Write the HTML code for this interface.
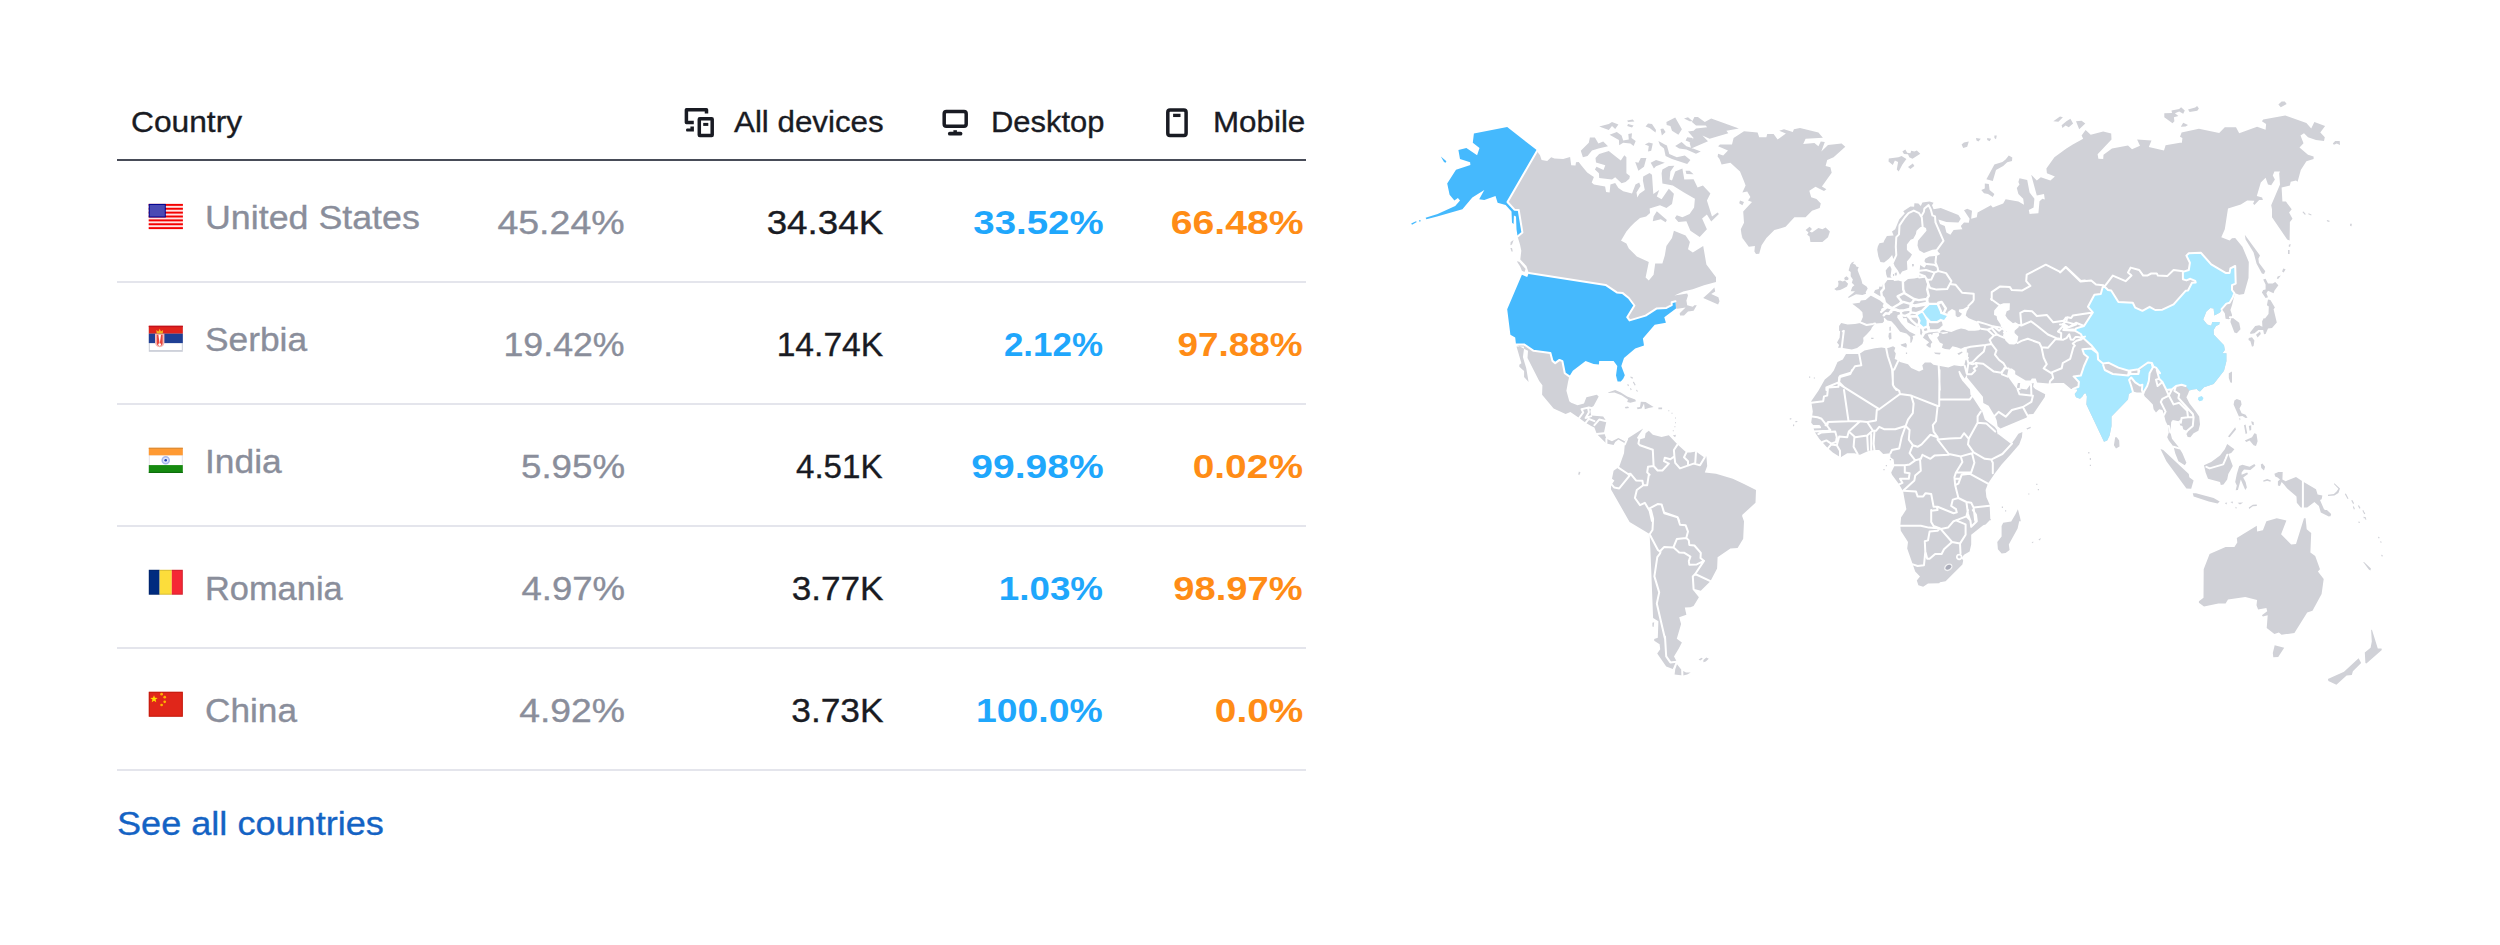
<!DOCTYPE html>
<html lang="en">
<head>
<meta charset="utf-8">
<title>Traffic by country</title>
<style>
  html, body { margin: 0; padding: 0; background: #fff; }
  body { width: 2500px; height: 945px; position: relative; overflow: hidden;
         font-family: "Liberation Sans", sans-serif; color: #191b23; }
  .t { position: absolute; white-space: nowrap; line-height: 1; }
  .hline { position: absolute; left: 117px; width: 1189px; height: 2px; background: #e4e5ec; }
  .hline.head { background: #484c58; }
  .th, .name, .pct, .val, .link { -webkit-text-stroke: 0.35px currentColor; }
  .th { font-size: 30px; color: #191b23; }
  .name { font-size: 33.5px; color: #8a8e9b; }
  .pct { font-size: 33.5px; color: #8a8e9b; }
  .val { font-size: 33.5px; color: #191b23; }
  .desk { font-size: 33.5px; color: #1fa7fc; font-weight: bold; }
  .mob { font-size: 33.5px; color: #ff8c16; font-weight: bold; }
  .link { font-size: 34px; color: #1463c4; }
  svg { position: absolute; left: 0; top: 0; overflow: visible; }
</style>
</head>
<body>
<div class="t th" id="h_country" style="left:131.4px; transform-origin:0 0; top:106.9px; transform:scaleX(1.0577);">Country</div>
<div class="t th" id="h_all" style="left:733.8px; transform-origin:0 0; top:106.9px; transform:scaleX(1.0437);">All devices</div>
<div class="t th" id="h_desk" style="left:991.1px; transform-origin:0 0; top:106.9px; transform:scaleX(1.0299);">Desktop</div>
<div class="t th" id="h_mob" style="left:1212.7px; transform-origin:0 0; top:106.9px; transform:scaleX(1.0442);">Mobile</div>
<div class="t name" id="n1" style="left:205.2px; transform-origin:0 0; top:200.9px; transform:scaleX(1.0682);">United States</div>
<div class="t name" id="n2" style="left:205.1px; transform-origin:0 0; top:323.0px; transform:scaleX(1.0545);">Serbia</div>
<div class="t name" id="n3" style="left:205.1px; transform-origin:0 0; top:445.0px; transform:scaleX(1.056);">India</div>
<div class="t name" id="n4" style="left:204.9px; transform-origin:0 0; top:572.2px; transform:scaleX(1.0267);">Romania</div>
<div class="t name" id="n5" style="left:204.8px; transform-origin:0 0; top:694.2px; transform:scaleX(1.0512);">China</div>
<div class="t pct" id="p1" style="right:1875.5px; transform-origin:100% 0; top:206.4px; transform:scaleX(1.1199);">45.24%</div>
<div class="t pct" id="p2" style="right:1875.5px; transform-origin:100% 0; top:328.4px; transform:scaleX(1.0662);">19.42%</div>
<div class="t pct" id="p3" style="right:1875.5px; transform-origin:100% 0; top:450.4px; transform:scaleX(1.0947);">5.95%</div>
<div class="t pct" id="p4" style="right:1875.5px; transform-origin:100% 0; top:572.4px; transform:scaleX(1.0904);">4.97%</div>
<div class="t pct" id="p5" style="right:1875.5px; transform-origin:100% 0; top:694.4px; transform:scaleX(1.1141);">4.92%</div>
<div class="t val" id="v1" style="right:1616.9px; transform-origin:100% 0; top:206.4px; transform:scaleX(1.0972);">34.34K</div>
<div class="t val" id="v2" style="right:1617.0px; transform-origin:100% 0; top:328.4px; transform:scaleX(1.0031);">14.74K</div>
<div class="t val" id="v3" style="right:1617.0px; transform-origin:100% 0; top:450.4px; transform:scaleX(0.989);">4.51K</div>
<div class="t val" id="v4" style="right:1616.9px; transform-origin:100% 0; top:572.4px; transform:scaleX(1.0487);">3.77K</div>
<div class="t val" id="v5" style="right:1616.9px; transform-origin:100% 0; top:694.4px; transform:scaleX(1.0545);">3.73K</div>
<div class="t desk" id="d1" style="right:1396.8px; transform-origin:100% 0; top:206.4px; transform:scaleX(1.1468);">33.52%</div>
<div class="t desk" id="d2" style="right:1397.0px; transform-origin:100% 0; top:328.4px; transform:scaleX(1.0431);">2.12%</div>
<div class="t desk" id="d3" style="right:1396.8px; transform-origin:100% 0; top:450.4px; transform:scaleX(1.1647);">99.98%</div>
<div class="t desk" id="d4" style="right:1396.9px; transform-origin:100% 0; top:572.4px; transform:scaleX(1.0969);">1.03%</div>
<div class="t desk" id="d5" style="right:1396.9px; transform-origin:100% 0; top:694.4px; transform:scaleX(1.1145);">100.0%</div>
<div class="t mob" id="m1" style="right:1196.8px; transform-origin:100% 0; top:206.4px; transform:scaleX(1.1701);">66.48%</div>
<div class="t mob" id="m2" style="right:1196.9px; transform-origin:100% 0; top:328.4px; transform:scaleX(1.102);">97.88%</div>
<div class="t mob" id="m3" style="right:1196.8px; transform-origin:100% 0; top:450.4px; transform:scaleX(1.1614);">0.02%</div>
<div class="t mob" id="m4" style="right:1196.9px; transform-origin:100% 0; top:572.4px; transform:scaleX(1.1378);">98.97%</div>
<div class="t mob" id="m5" style="right:1196.8px; transform-origin:100% 0; top:694.4px; transform:scaleX(1.1594);">0.0%</div>
<div class="t link" id="seeall" style="left:117.2px; transform-origin:0 0; top:805.8px; transform:scaleX(1.0616);">See all countries</div>
<div class="hline head" style="top:159px;"></div>
<div class="hline" style="top:281px;"></div>
<div class="hline" style="top:403px;"></div>
<div class="hline" style="top:525px;"></div>
<div class="hline" style="top:647px;"></div>
<div class="hline" style="top:769px;"></div>
<svg width="2500" height="945" viewBox="0 0 2500 945" id="icons">
 <g fill="none" stroke="#191b23" stroke-width="3.5" stroke-linejoin="round" stroke-linecap="butt">
  <!-- all devices -->
  <path d="M706.5 113.6 V109.7 H686.4 V122.6 H693.8" stroke-linejoin="round"/>
  <path d="M687 128.5 H690.4 V126.5 H693.9 V131.6 H687 Q686 131.6 686 130 Q686 128.5 687 128.5 Z" fill="#191b23" stroke="none"/>
  <rect x="699.3" y="118.8" width="12.9" height="16.6" rx="0.5"/>
  <path d="M703.2 124.4 H708.3" stroke-width="3"/>
  <!-- desktop -->
  <rect x="944.2" y="111.6" width="22" height="14.7" rx="2.2"/>
  <path d="M949.8 133.7 H960.5" stroke-width="3.8" stroke-linecap="round"/>
  <path d="M955.15 130.2 V133" stroke-width="3.5"/>
  <!-- mobile -->
  <rect x="1167.8" y="110" width="18.3" height="25.4" rx="2.2"/>
  <path d="M1173.1 115.4 H1180.5" stroke-width="3.3"/>
 </g>
</svg>
<svg width="2500" height="945" viewBox="0 0 2500 945" id="flags">
<g><rect x="148.7" y="203.9" width="34.2" height="25.2" fill="#ffe4e4"/><rect x="148.7" y="203.90" width="34.2" height="1.94" fill="#f40000"/><rect x="148.7" y="207.78" width="34.2" height="1.94" fill="#f40000"/><rect x="148.7" y="211.65" width="34.2" height="1.94" fill="#f40000"/><rect x="148.7" y="215.53" width="34.2" height="1.94" fill="#f40000"/><rect x="148.7" y="219.41" width="34.2" height="1.94" fill="#f40000"/><rect x="148.7" y="223.28" width="34.2" height="1.94" fill="#f40000"/><rect x="148.7" y="227.16" width="34.2" height="1.94" fill="#f40000"/><rect x="148.7" y="203.9" width="17.1" height="13.57" fill="#00008f"/><rect x="149.7" y="204.9" width="15.1" height="11.57" fill="#4a4ab4"/></g>
<g><rect x="148.8" y="325.8" width="34" height="26" fill="#c9ccd6"/><rect x="149.8" y="343.1" width="32" height="6.999999999999999" fill="#ffffff"/><rect x="148.8" y="325.8" width="34" height="7.9" fill="#e0231c"/><rect x="148.8" y="325.8" width="34" height="1.3" fill="#c4101a"/><rect x="148.8" y="333.7" width="34" height="9.4" fill="#1f3f94"/><path d="M155.0 333.8 H164.4 V342.3 Q164.4 347.0 159.70000000000002 347.2 Q155.0 347.0 155.0 342.3 Z" fill="#f6b9b4"/><path d="M156.8 334.8 H162.60000000000002 V342.8 Q162.4 346.0 159.70000000000002 346.2 Q157.0 346.0 156.8 342.8 Z" fill="#e8453c"/><path d="M158.4 334.8 L159.70000000000002 344.3 L161.0 334.8 Z" fill="#ffffff"/><circle cx="159.70000000000002" cy="344.6" r="1.4" fill="#ffffff"/><path d="M156.70000000000002 333.40000000000003 L156.3 330.1 L158.4 331.40000000000003 L159.70000000000002 328.7 L161.0 331.40000000000003 L163.10000000000002 330.1 L162.70000000000002 333.40000000000003 Z" fill="#f7b521"/></g>
<g><rect x="148.8" y="447.8" width="34" height="25.1" fill="#e3e1e8"/><rect x="149.8" y="455.3" width="32" height="9.8" fill="#ffffff"/><rect x="148.8" y="447.8" width="34" height="7.5" fill="#ff9a33"/><rect x="148.8" y="447.8" width="34" height="1" fill="#d98a35"/><rect x="148.8" y="465.1" width="34" height="7.800000000000001" fill="#168a10"/><rect x="148.8" y="471.90000000000003" width="34" height="1" fill="#0a6a0a"/><circle cx="165.70000000000002" cy="460.2" r="3.5" fill="#dfe6fa" stroke="#a9b9ee" stroke-width="1.6"/><circle cx="165.70000000000002" cy="460.2" r="1.3" fill="#1d3fb0"/></g>
<g><rect x="148.8" y="569.8" width="10.8" height="24.9" fill="#002b7f"/><rect x="159.60000000000002" y="569.8" width="12.2" height="24.9" fill="#fcdd3b"/><rect x="171.8" y="569.8" width="11" height="24.9" fill="#f52735"/><rect x="149.3" y="570.3" width="33" height="23.9" fill="none" stroke="#000" stroke-opacity=".15"/></g>
<g><rect x="148.8" y="691.8" width="34" height="24.9" fill="#e0261a"/><rect x="149.3" y="692.3" width="33" height="23.9" fill="none" stroke="#b81508" stroke-opacity=".7"/><polygon points="154.00,695.20 154.96,697.77 157.71,697.89 155.56,699.61 156.29,702.26 154.00,700.74 151.71,702.26 152.44,699.61 150.29,697.89 153.04,697.77" fill="#ffde00"/><circle cx="161.60000000000002" cy="694.1999999999999" r="1.35" fill="#ffb400"/><circle cx="164.70000000000002" cy="697.1999999999999" r="1.35" fill="#ffb400"/><circle cx="164.70000000000002" cy="701.8" r="1.35" fill="#ffb400"/><circle cx="161.60000000000002" cy="705.0" r="1.35" fill="#ffb400"/></g>
</svg>
<svg width="2500" height="945" viewBox="0 0 2500 945" id="map">
<path fill="#d0d1d7" d="M1884 241 L1886.9 235.9 L1893.6 235.6 L1892 231.6 L1895.2 229.2 L1899.2 219.6 L1904.8 213.2 L1903.2 211.3 L1910.4 206.5 L1914.1 206.8 L1914.4 203.3 L1918.4 203.6 L1920.8 206 L1922.4 202.5 L1929.6 201.5 L1933.6 202.8 L1932 205.2 L1933.6 209.2 L1940.8 208.1 L1958.4 215.1 L1960.8 218.8 L1958.4 222.5 L1946.4 222 L1938.4 219.6 L1940 224.1 L1944.8 226 L1946.4 232.4 L1950.4 234.8 L1953.6 230 L1962.4 229.2 L1960.8 226 L1964 222.5 L1968.8 222.8 L1969.6 218.8 L1964 210.3 L1967.2 208.7 L1972 210.8 L1971.2 218.8 L1976.8 217.2 L1977.6 212.4 L1990.9 205.2 L1992.8 207.6 L2003.2 203.6 L2005.6 199.3 L2018.4 201.5 L2024 204.7 L2023.2 198.8 L2018.4 194 L2016.8 187.9 L2019.5 184.4 L2018.4 182 L2019.5 178.3 L2027.2 179.9 L2029.6 192.4 L2034.4 198.8 L2033.6 207.6 L2028.8 210 L2029.6 214 L2038.4 213.2 L2039.5 201.2 L2042.4 198.8 L2044.8 199.6 L2044 194 L2036.8 195.6 L2031.2 174.8 L2036.8 180.4 L2040.8 177.2 L2050.4 180.4 L2054.9 176.4 L2046.9 173.2 L2046.4 168.4 L2054.4 157.2 L2066.4 148.4 L2072.8 144.4 L2083.2 138.8 L2081.6 135.6 L2085.6 130 L2090.7 134.8 L2103.2 131.6 L2111.2 133.5 L2111.5 139.6 L2097.6 154.3 L2098.4 158.8 L2103.2 159.1 L2103.5 154.8 L2112 148.4 L2128 145.5 L2132 149.2 L2140 145.7 L2137.1 139.6 L2151.5 140.4 L2148.8 147.1 L2164 150.5 L2165.6 145.2 L2180 142.8 L2181.9 142.8 L2182.4 138 L2180 136.7 L2181.6 132.4 L2198.9 128.7 L2219.2 132.9 L2224.8 127.3 L2236 127.3 L2239.2 133.2 L2257.1 126.8 L2265.6 129.7 L2266.1 123.9 L2261.9 121.2 L2263.2 119.6 L2285.3 115.6 L2306.4 123.1 L2311.2 128.4 L2314.4 122 L2325.1 126 L2320.3 132.4 L2324.8 137.2 L2324 140.9 L2316 140.1 L2308 137.2 L2304 133.2 L2300.5 135.6 L2303.5 143.3 L2299.5 147.6 L2308 154.8 L2313.6 156.4 L2313.6 159.1 L2306.4 161.2 L2300.8 170 L2297.6 181.7 L2296 180.4 L2290.7 181.7 L2289.9 185.5 L2281.6 187.6 L2282.4 201.5 L2285.9 201.5 L2291.7 209.2 L2289.1 212.4 L2292.5 218.8 L2289.9 222 L2289.6 240.4 L2287.2 239.6 L2272 217.2 L2272 209.2 L2271.2 205.2 L2280 184.4 L2279.2 173.2 L2280 171.6 L2274.4 171.6 L2272.8 175.6 L2274.9 179.6 L2271.2 185.2 L2268 184.4 L2265.6 177.7 L2260.8 182.5 L2256.8 195.9 L2262.1 197.5 L2262.9 199.9 L2259.2 200.1 L2254.4 204.9 L2253.1 203.6 L2254.4 200.7 L2247.2 200.4 L2240.8 204.4 L2228 208.4 L2224.8 229.2 L2221.3 237.2 L2229.6 240.4 L2232 238.3 L2235.2 238 L2242.4 246.8 L2248.8 262 L2248.5 278 L2244 294 L2239.2 294.8 L2235.2 293.2 L2234.4 295.6 L2233.6 298.8 L2232 305.2 L2230.4 310 L2232 314.8 L2232 317.2 L2239.2 322.8 L2240.5 329.2 L2236.8 333.2 L2234.4 332.4 L2230.4 322 L2231.2 318 L2228.8 319.3 L2225.6 318.8 L2224.8 313.2 L2221.9 309.2 L2220 312.4 L2214.4 315.6 L2213.6 308.4 L2210.4 308.1 L2206.4 311.6 L2203.2 319.6 L2207.2 324.4 L2211.2 325.7 L2212.3 322 L2219.7 322 L2219.2 324.4 L2216 326 L2213.6 330 L2213.9 334.8 L2224 345.2 L2224.8 350 L2222.4 353.2 L2226.4 353.2 L2226.4 361.2 L2224 370.8 L2216 381 L2213.6 384.1 L2204 387.3 L2200 391.6 L2198.4 390.8 L2196.8 388.9 L2192.8 389.5 L2189.3 390.5 L2188 394 L2186.4 397.2 L2189.6 403.6 L2195.2 410.8 L2199.2 416.4 L2200 424.4 L2198.4 430.8 L2193.6 433.2 L2190.4 437.2 L2187.7 436.9 L2186.4 434 L2188 431.6 L2183.2 429.2 L2182.4 426 L2180 425.2 L2179.7 421.2 L2177.6 420.9 L2172.8 419.9 L2171.2 422 L2170.4 432.4 L2172 438.8 L2178.4 446.8 L2182.4 453.2 L2186.4 462.8 L2184.8 465.2 L2178.4 461.2 L2175.2 453.2 L2173.6 446.8 L2168.8 440.4 L2167.2 437.2 L2168.8 432.4 L2168 426 L2165.6 421.2 L2164 414.8 L2162.4 410 L2159.2 409.2 L2156 412.4 L2153.6 409.2 L2152.8 404.4 L2148 399.6 L2144.8 396.4 L2144 394.8 L2141.6 392.4 L2136.8 392.4 L2132.8 391.6 L2128.8 394 L2128 399.6 L2111.5 416.4 L2111.5 426 L2109.6 435.6 L2107.2 440.4 L2104 441.7 L2086.4 404.4 L2086.9 396.4 L2085.6 393.2 L2084 393.7 L2082.4 396.4 L2080 398.8 L2076 397.2 L2074.7 394 L2077.3 390.8 L2076.8 389.2 L2073.1 388.9 L2073 388.9 L2071 388.9 L2063.8 382.9 L2055.2 382.9 L2048.6 383.5 L2037.1 382.4 L2035.7 378.6 L2031.9 378.6 L2030.5 380.5 L2025.7 380.5 L2015.2 374.3 L2015.2 371 L2011.9 368.6 L2008.6 368.6 L2007.1 375.2 L2008.1 377.1 L2015.7 387.6 L2017.1 388.9 L2017.1 386.2 L2017.9 382.9 L2020.2 382.9 L2019.5 388.6 L2026.7 389.5 L2031 383.8 L2033.8 383.1 L2033.1 386.7 L2035.2 389 L2045.2 394.3 L2044.8 397.1 L2033.3 414 L2028.6 414.3 L2026.7 417.6 L2000.5 428.6 L1997.6 426.2 L1996.7 420.5 L1995.2 416.7 L1994.3 415.2 L1988.6 405.7 L1983.3 402.9 L1982.9 396.7 L1967.1 377.6 L1967.1 374.3 L1964.7 378.5 L1962 374.8 L1959.7 370.8 L1958.3 371.6 L1959.9 376.4 L1962.6 381.2 L1962.6 381.1 L1970 389.5 L1970.5 394.8 L1972.4 396.7 L1981 410 L1982.4 411.9 L1984.8 419.5 L1994.8 427.1 L1996.7 429.5 L1997.6 434.3 L1998.4 434.3 L2011.2 443.9 L2014.9 439.1 L2018.4 433.7 L2022.4 432.1 L2021.9 437.2 L2019.2 444.4 L2010.4 454.8 L2001.6 464.4 L1994.4 474 L1988 483.6 L1985.6 490 L1986.4 497.2 L1989.6 504.4 L1990.4 521 L1991.2 518.8 L1985.6 524.4 L1983.2 525.2 L1971.2 534.8 L1971.2 544.4 L1969.6 551.6 L1964 554.8 L1961.6 558 L1963.2 560.4 L1962.4 564.4 L1945.6 581.2 L1940 582.3 L1939.2 583.3 L1928 583.6 L1923.2 586.8 L1918.4 585.2 L1916.8 580.4 L1920 576.4 L1915.2 571.6 L1912.8 564.4 L1907.2 548.4 L1908 542 L1900.8 530.8 L1900.3 526 L1901.1 517.2 L1902.4 515.6 L1906.4 509.2 L1904 496.4 L1903.2 491.6 L1899.2 484.4 L1892 474.8 L1891.2 472.4 L1894.4 466 L1893.6 459.6 L1890.4 457.2 L1890.4 453.2 L1883.2 454 L1879.2 450 L1874.4 450 L1868.8 450.8 L1860 454.8 L1854.4 453.2 L1847.2 453.2 L1840.8 457.2 L1839.2 456.4 L1832.8 452.4 L1826.4 446.8 L1819.2 438.8 L1814.4 431.6 L1812.8 424.4 L1811.2 422.8 L1812.8 411.6 L1811.2 401.2 L1818.4 390.8 L1824.8 379.6 L1830.6 374.8 L1833.8 370.6 L1837.5 362.1 L1842.8 359.4 L1846 354.1 L1851.8 354.1 L1859.2 354.1 L1860.8 353.1 L1864.5 350.4 L1875.1 348.3 L1881.5 347.6 L1886.2 348.3 L1888.9 347.8 L1893.1 346.2 L1895.3 347.8 L1894.2 350.9 L1895.8 353.6 L1894.7 358.9 L1898.4 360.5 L1900 362.1 L1908 364.2 L1911.2 367.9 L1919.1 371.4 L1923.3 369.5 L1922.3 365.3 L1924.9 362.6 L1930.8 362.4 L1933.4 364.7 L1938.7 365.8 L1948.3 367.4 L1954.1 365.3 L1961 366.3 L1964.2 365.8 L1965.7 358.9 L1966.8 353.6 L1966.8 347.8 L1965.2 346.7 L1961 348.8 L1956.7 347.2 L1952.5 346.2 L1949.8 349.4 L1945.1 349.1 L1941.9 347.8 L1943 344.1 L1939.8 342.5 L1938.2 339.8 L1937.1 337.7 L1939.2 335.6 L1938.7 332.4 L1937.7 332.4 L1932.9 332.9 L1932.1 334.9 L1930.8 334 L1927.6 334.4 L1929.2 338.1 L1932.4 342.3 L1930.8 343.9 L1930.8 347.6 L1929.2 347.6 L1926 345 L1929.2 342.3 L1923.4 338.1 L1922.3 336.5 L1921.8 335.7 L1920.2 333.9 L1920.2 328.6 L1918.1 327.5 L1917 326.5 L1914.4 325.9 L1907.5 322.2 L1906.5 318 L1903.3 318.3 L1902.8 316.9 L1901.2 315.9 L1900.4 314 L1897.5 315.3 L1897.2 317.5 L1901.2 323.3 L1905.9 328.6 L1909.6 331.7 L1915.2 334.4 L1915.4 335.2 L1912.5 336 L1913.1 338.1 L1911.7 342.3 L1910.4 342.9 L1910.2 337 L1906.5 333.6 L1900.1 331.7 L1895.3 325.4 L1891.4 321.2 L1887.4 320.6 L1884.8 318 L1883.7 317.5 L1884.1 321.3 L1882.5 322.9 L1875.1 323.4 L1871.9 327.6 L1870.9 329.7 L1866.6 334.5 L1863.2 337.7 L1863.5 340.9 L1862.4 344.1 L1857.1 348.1 L1851.8 349.6 L1842.8 348.1 L1841.7 347.8 L1838 347.8 L1839.1 345.1 L1837 342.5 L1839.6 337.7 L1840.1 331.3 L1839.1 330.8 L1839.1 326 L1841.2 322.9 L1847.6 324.4 L1855 323.9 L1860.3 322.9 L1862.9 317 L1862.4 312.3 L1859.2 309.1 L1852.3 303.8 L1859.7 302.7 L1860.8 300.6 L1865.6 300.1 L1865.6 300 L1870.9 295.4 L1873 294.3 L1875.1 290.1 L1878.8 289 L1879.4 286.4 L1881.5 286.9 L1882.5 284.3 L1884.7 283.7 L1887.8 279.5 L1886.2 274.2 L1885.7 270.5 L1887.8 267.8 L1890 265.7 L1891.5 268.9 L1891 273.1 L1890.5 276.3 L1892.1 278.4 L1894.2 281.1 L1898.4 280.6 L1901.6 281.6 L1904.3 282.1 L1908 279 L1914.3 278.4 L1919.1 277.4 L1919.6 274.2 L1919.6 270.5 L1920.2 264.9 L1922 266.2 L1924.4 267.8 L1926.8 263.9 L1924.4 261.3 L1925.2 258.8 L1929.2 256.5 L1935 256 L1937.7 255.6 L1940.3 254.1 L1938.2 251.9 L1936.6 249.3 L1932.4 249.8 L1923.9 253 L1919.1 250.3 L1917.5 245.6 L1918 240.8 L1926.5 230.7 L1926 228.1 L1922.8 226.5 L1920.2 227.3 L1916.5 230.7 L1915.9 233.9 L1913.3 238.7 L1910.6 239.7 L1906.9 244.5 L1906.9 249.8 L1908 250.9 L1912 254.6 L1910.1 257.8 L1906.9 261.5 L1907.4 269.4 L1906.4 270 L1902.1 271.5 L1900 274.7 L1897.9 270.5 L1894.7 266.2 L1893.1 262 L1894.2 259.4 L1893.1 258.3 L1892.1 255.1 L1888.9 258.8 L1884.1 262.5 L1880.4 262 L1878.3 256.2 L1877.2 249.8 L1877.8 246.6 L1879.4 243.2 L1883.6 242.4 Z
M1537.9 152.4 L1540 155.3 L1541.6 159.9 L1547.2 160.9 L1551.2 157.2 L1554.4 158.5 L1563.2 159.1 L1570.1 156.9 L1571.2 165.2 L1575.5 165.5 L1576 162.3 L1578.7 162 L1581.6 165.7 L1587.2 172.4 L1591.2 175.3 L1593.9 176.9 L1591.7 182.5 L1593.9 184.4 L1605.1 186.5 L1606.1 192.1 L1609.6 192.4 L1610.4 184.4 L1615.2 183.1 L1618.4 188.1 L1623.2 191.3 L1632 193.5 L1635.5 184.4 L1639.2 182.5 L1640.5 186 L1636.5 192.4 L1637.3 197.5 L1639.5 193.7 L1644.8 190 L1642.9 180.4 L1643.2 176.4 L1649.6 172.9 L1652 174.8 L1653.3 194 L1659.2 190 L1656.8 196.4 L1661.6 199.3 L1668.8 188.7 L1673.9 193.7 L1672 203.9 L1666.4 208.1 L1660 205.2 L1649.6 208.4 L1650.1 212.9 L1646.1 216.4 L1640 218 L1634.4 222.8 L1630.4 226.8 L1626.4 231.6 L1620.8 241 L1620.8 240.4 L1626.4 243.6 L1628.8 248.4 L1636.8 256.4 L1648.8 262 L1645.6 277.5 L1648.8 280.4 L1653.6 274.8 L1655.2 263.6 L1662.4 263.6 L1664.8 255.6 L1666.4 246 L1672 238 L1673.9 230.8 L1685.6 235.6 L1689.9 242 L1688 249.2 L1692.8 252.4 L1703.2 246 L1706.4 264.4 L1716 277.2 L1716 282 L1704 285.2 L1692.8 289.2 L1683.2 291.6 L1674.4 295.6 L1687.2 293.5 L1688 295.6 L1686.4 300.4 L1687.2 305.2 L1692.8 306.8 L1694.4 305.2 L1696.8 305.2 L1693.6 310.8 L1688 311.6 L1684 315.6 L1680 315.6 L1679.7 313.2 L1685.6 307.6 L1677.6 308.7 L1676 308.4 L1675.5 301.2 L1675.5 301.2 L1671.7 302.3 L1671.7 305.2 L1666.4 307.9 L1656.8 308.4 L1645.6 315.6 L1629.6 320.4 L1627.2 317.2 L1634.4 305.5 L1628.8 298 L1622.4 292.9 L1616.8 292.4 L1605.6 284.9 L1528.8 272.9 L1528 270.8 L1526.4 266 L1520.3 259.6 L1521.3 250.8 L1520 244.4 L1517.6 236.7 L1517.6 236.4 L1522.4 232.4 L1518.7 210 L1514.4 209.7 L1507.5 202 L1537.3 150.5 Z
M1510.7 242 L1513.6 239.9 L1512 244.4 L1510.4 245.2 Z
M1510.4 247.9 L1512 247.9 L1512.8 251.6 L1511.5 251.6 Z
M1516.8 261.2 L1519.2 261.7 L1525.6 268.9 L1524.5 271.9 L1521.9 270.8 L1520.3 266.8 Z
M1714.4 287.6 L1715.2 291.6 L1711.2 294 L1718.4 297.2 L1719.5 301.2 L1718.1 304.4 L1703.2 298 L1710.4 291.6 Z
M1589.9 137.5 L1594.9 137.5 L1598.4 143.6 L1603.2 141.5 L1608 146.3 L1598.4 148.4 L1592 150.5 L1587.5 155.9 L1582.9 157.2 L1580.8 150.8 L1588.8 142.8 Z
M1599.2 154 L1608.8 151.1 L1614.4 155.6 L1620.8 160.4 L1624.3 155.3 L1626.4 157.2 L1626.4 173.2 L1629.9 175.9 L1629.3 178.8 L1625.6 182 L1621.6 183.3 L1615.2 177.2 L1612 179.6 L1599.2 178 L1598.9 173.2 L1594.9 169.5 L1596.5 166.8 L1603.5 170 L1605.3 165.2 L1596 162.5 L1595.5 158 Z
M1599.2 126.5 L1608.8 124.1 L1612 122 L1618.4 124.4 L1615.2 128.9 L1612 126 L1608.8 130 Z
M1609.6 134.8 L1616.8 131.9 L1621.6 135.6 L1623.2 140.4 L1628.8 139.6 L1628.3 134 L1632 133.2 L1631.5 138 L1635.7 140.9 L1633.6 146 L1630.4 143.6 L1623.2 142.8 L1619.2 145.2 L1618.9 139.9 Z
M1627.2 120.4 L1632.8 119.6 L1634.4 121.5 L1628 122 Z
M1628 124.1 L1633.6 125.5 L1632 127.6 L1627.2 126 Z
M1645.6 126.5 L1648 123.6 L1652 124.1 L1656 130 L1655.5 132.4 L1649.6 128.1 Z
M1660.5 128.9 L1663.2 128.4 L1665.6 131.9 L1661.9 135.6 L1661.1 131.9 Z
M1644.8 144.4 L1648.8 142.5 L1652.8 143.6 L1651.2 150.8 L1648 151.6 L1648.8 146 Z
M1640.8 158 L1646.4 158 L1644 166.8 L1638.4 170.8 L1635.2 162 L1638.4 162.8 Z
M1650.7 162.8 L1656 159.9 L1664.8 162.8 L1656 166.3 L1653.9 168.4 L1652.8 166.5 Z
M1666.4 122 L1675.2 117.5 L1679.2 124.4 L1681.9 129.2 L1678.4 134.8 L1672 130.8 L1670.4 126 L1666.7 124.9 Z
M1684 118.5 L1688 117.2 L1692.8 121.2 L1689.6 121.2 Z
M1694.4 116.9 L1697.9 116.9 L1704.8 122 L1711.2 118.5 L1738.9 128.4 L1726.4 130.8 L1728.3 133.2 L1709.6 138.8 L1702.4 135.6 L1708 141.2 L1691.2 148.4 L1689.6 142.8 L1693.6 138 L1688 131.6 L1693.6 130.8 L1696 128.4 L1707.2 127.3 L1705.6 125.5 L1696 125.5 L1692 122 Z
M1675.2 146 L1681.6 142 L1686.4 146.3 L1690.4 147.6 L1700.8 151.6 L1696 153.7 L1686.4 149.5 L1679.2 148.4 Z
M1687.2 137.2 L1692.8 138 L1691.2 142.8 L1685.6 140.4 Z
M1658.4 140.9 L1664.8 144.4 L1666.9 145.5 L1669.3 154 L1676.8 157.2 L1684.8 155.6 L1690.4 159.9 L1687.2 163.9 L1672 159.1 L1665.6 155.9 L1664 148.4 L1660 145.2 Z
M1662.4 169.5 L1668.8 166 L1674.4 165.7 L1670.4 171.6 L1669.6 179.6 L1672 180.4 L1675.2 171.6 L1682.4 168.4 L1684.3 179.6 L1693.6 179.3 L1697.6 187.6 L1702.9 185.5 L1710.4 193.5 L1706.9 200.4 L1712 216.4 L1717.6 212.4 L1718.9 214 L1711.2 221.5 L1706.9 214.5 L1702.1 218.5 L1706.9 229.2 L1699.7 236.9 L1690.4 230.8 L1686.4 221.2 L1678.4 222 L1674.9 218 L1676.8 215.3 L1682.4 217.2 L1689.6 214 L1694.1 207.6 L1694.9 198.8 L1684 192.4 L1672.8 185.5 L1662.4 183.6 L1661.6 173.2 Z
M1685.6 170.8 L1689.6 170.8 L1693.6 174.3 L1686.4 174 Z
M1656.8 211.3 L1666.9 219.9 L1665.6 222.3 L1660.8 219.3 L1652.8 221.2 L1653.6 216.4 Z
M1740 200.4 L1744 202 L1742.4 205.2 L1739.2 203.3 Z
M1742.4 241 L1740.8 229.2 L1744 222.8 L1743.2 211.6 L1752 202 L1748 200.4 L1750.4 196.9 L1747.2 191.6 L1742.4 192.4 L1745.6 185.5 L1744 181.2 L1740 171.6 L1730.4 162.8 L1721.6 164.4 L1719.5 159.1 L1717.6 156.4 L1718.1 153.7 L1723.2 155.6 L1728 150.5 L1718.1 146.3 L1720 144.4 L1732 144.4 L1733.6 138 L1744 131.3 L1757.6 132.4 L1759.2 137.2 L1766.4 137.2 L1767.2 134 L1773.6 134 L1777.6 139.6 L1785.9 133.5 L1779.2 130.8 L1784 129.2 L1792.8 131.9 L1793.9 129.2 L1800 128.1 L1818.4 132.4 L1822.9 137.7 L1805.6 138.8 L1803.2 143.9 L1814.4 143.1 L1818.4 146.3 L1820.8 141.5 L1824.8 142 L1821.3 151.6 L1828 144.9 L1841.6 143.6 L1845.3 146.8 L1833.6 157.2 L1827.2 159.9 L1825.6 166 L1830.4 167.3 L1831.7 172.7 L1821.9 186.5 L1826.4 189.2 L1824 191.1 L1815.5 186.8 L1809.3 190.8 L1811.2 197.2 L1816.5 199.1 L1820.8 203.6 L1819.7 208.1 L1812 210.8 L1805.6 217.2 L1794.4 217.2 L1785.6 226.8 L1780 228.4 L1774.4 230 L1766.4 238 L1761.6 245.2 L1759.2 253.7 L1756 254 L1754.4 251.6 L1754.9 246 L1748.8 246.8 L1742.4 238 L1741.6 234 Z
M1805.6 230 L1809.6 226.8 L1812 228.9 L1809.6 231.6 L1812 232.4 L1818.4 227.9 L1822.4 229.2 L1825.6 227.6 L1829.9 231.6 L1828 237.2 L1822.4 242 L1810.4 242 L1809.6 236.4 L1807.2 234.8 L1808.5 232.4 Z
M1888.8 158.5 L1898.4 157.2 L1901.6 155.9 L1906.4 159.1 L1902.4 164.4 L1898.7 171.6 L1896.8 169.5 L1898.1 162 L1894.9 160.4 L1892.8 164.9 L1888.5 161.5 Z
M1902.4 151.6 L1905.3 149.5 L1907.2 152.7 L1910.4 153.2 L1911.2 150.8 L1914.4 151.6 L1916.8 150.5 L1920.3 153.7 L1912.5 158.8 L1909.3 157.2 L1908 154.3 L1904 154 Z
M1908 167.1 L1912.8 163.6 L1914.4 166 L1910.4 168.9 Z
M1961.6 144.4 L1964 142.5 L1968.8 141.5 L1967.2 146.8 L1963.2 147.9 Z
M1976 138 L1980.8 138.8 L1978.4 141.5 L1976.5 140.4 Z
M1987.2 138 L1991.2 138.8 L1989.6 141.2 L1987.2 139.9 Z
M1994.4 135.6 L1996.8 135.6 L1996 139.3 L1994.4 138 Z
M2008.8 155.6 L2012.3 157.5 L2012 160.9 L2007.2 162.3 L2003.2 166 L1996 170 L1992.8 180.9 L1986.4 179.3 L1994.4 164.4 L2002.4 162 L2005.6 159.6 Z
M1984.8 183.6 L1988.8 184.1 L1989.6 190 L1994.4 194 L1992.8 196.9 L1988 194 L1984 193.2 L1981.3 190 L1984.8 188.4 Z
M2053.3 121.2 L2060 116.4 L2062.9 117.2 L2058.4 121.7 Z
M2061.6 125.2 L2066.4 121.2 L2070.4 118.8 L2073.1 123.6 L2068.8 127.3 L2065.6 125.5 L2062.4 128.1 Z
M2076 121.2 L2081.6 120.7 L2085.3 123.6 L2079.2 129.2 Z
M2164.3 113.2 L2172 112.9 L2171.5 110.5 L2179.2 108.9 L2181.1 107.3 L2184.8 110.5 L2183.2 113.7 L2179.2 111.6 L2174.9 113.2 L2178.4 116.1 L2173.9 117.2 L2174.4 121.2 L2172.5 123.3 L2164.3 117.2 Z
M2188 109.5 L2195.2 107.6 L2197.1 106 L2198.9 108.4 L2197.3 110.8 L2189.6 111.9 Z
M2180.8 126.8 L2183.2 122.8 L2188 124.9 L2185.6 126.5 Z
M2278.4 104.4 L2281.6 101.5 L2284.8 101.5 L2286.7 104.1 L2280.8 107.3 Z
M2332.8 143.6 L2335.2 140.9 L2339.7 140.9 L2340 144.9 L2336.8 143.6 L2333.9 144.7 Z
M2302.4 211.9 L2303.5 211.6 L2305.9 214.3 L2304.8 214.8 Z
M2308.5 213.2 L2311.5 214.5 L2311.2 215.6 L2308.3 214.2 Z
M2326.9 220.1 L2329.6 220.7 L2329.3 222 L2326.9 221.2 Z
M2350.1 223.8 L2351.8 223.8 L2351.5 226.3 L2350.2 226 Z
M1912 264.1 L1913.8 264.1 L1913.8 266.2 L1912.2 266.6 Z
M1892.9 274.2 L1894.2 273.7 L1894.2 275.8 L1893.1 276.3 Z
M1894.7 273.1 L1896.8 272.6 L1896.8 275.3 L1895.3 275.8 Z
M1854.4 261.5 L1852.9 263.6 L1855.5 264.7 L1856.6 266.8 L1858.7 267 L1857.6 270 L1858.7 273.1 L1861.3 279.5 L1862.4 283.7 L1866.6 286.4 L1867.7 288.5 L1865.6 292.2 L1866.1 293.8 L1862.4 294.9 L1856 294.3 L1848.6 298 L1848.1 297 L1852.9 293.3 L1855 291.2 L1850.7 291.2 L1852.3 286.9 L1854.4 285.3 L1851.8 282.7 L1852.9 279.5 L1850.7 276.3 L1850.7 272.1 L1848.6 270.5 L1850.2 264.7 L1851.8 262.5 Z
M1838 281.1 L1840.1 280.6 L1842.8 281.6 L1844.9 280.6 L1848.1 283.7 L1847 286.4 L1843.3 288.5 L1840.1 290.1 L1836.4 290.6 L1834.3 289 L1838 286.4 L1838.5 283.7 Z
M1844.6 277.4 L1846.5 276.3 L1848.6 277.9 L1848.1 280 L1845.4 280.3 L1844.2 279 Z
M1900.6 344.6 L1905.9 343 L1906.9 345.1 L1906.4 347.8 L1903.7 346.7 L1901.1 345.6 Z
M1888.9 332.9 L1891.2 332.4 L1891.5 338.8 L1889.4 339.8 L1888.4 336.6 Z
M1889.4 327.1 L1890.8 326.6 L1890.8 330.8 L1889.4 330.8 Z
M1870.9 337.7 L1873.5 337.7 L1873.5 339 L1871.4 339 Z
M1933.9 352.5 L1940.8 352.8 L1939.8 354.4 L1935.5 354.1 Z
M1957.3 353.6 L1962 351.5 L1962.6 352.5 L1958.9 354.9 Z
M1905.9 352.5 L1907.1 352.5 L1907.1 354.1 L1905.9 354.1 Z
M2228.8 373.2 L2232 371.6 L2232 382.8 L2230.4 382.5 L2228.8 378 Z
M2263.2 279.6 L2265.6 278.8 L2268 283.6 L2272.8 283.6 L2275.2 282 L2278.4 285.2 L2274.4 290.8 L2273.6 293.2 L2268 290.8 L2266.4 293.2 L2268 297.2 L2265.6 298 L2261.9 292.4 L2263.2 290 L2265.6 289.5 L2265.6 284.4 Z
M2268 299.6 L2270.4 299.9 L2274.9 307.6 L2273.6 309.2 L2276.8 322.5 L2272 327.9 L2268 328.4 L2265.6 334 L2264 334.3 L2263.2 330 L2258.4 330 L2254.4 333.2 L2250.4 334 L2250.1 332.4 L2255.2 326 L2259.2 325.2 L2262.4 326.8 L2262.1 321.2 L2264 317.7 L2264.8 318.8 L2268.5 314 L2268.8 306.5 L2266.9 305.2 Z
M2256 334.8 L2260 331.6 L2260.8 334 L2257.6 337.5 Z
M2248.8 338 L2252 337.2 L2254.4 340.4 L2253.6 346 L2252 346.8 L2250.4 341.2 L2248.5 340.1 Z
M2244.8 234.8 L2260 255.6 L2258.4 258.8 L2258.9 262.8 L2265.3 271.3 L2264 274 L2261.9 273.5 L2256.5 263.6 L2253.6 252.4 L2245.6 239.6 Z
M2288 250 L2289.6 250 L2289.6 254 L2288 254 Z
M2283.2 268.4 L2285.6 269.2 L2283.7 272.4 L2282.1 271.6 Z
M2277.6 276.4 L2280.8 275.6 L2278.4 278.8 L2276.8 278.8 Z
M2288.8 244.7 L2290.7 244.1 L2290.1 246.8 L2288.8 246.8 Z
M2115.2 437.2 L2116.8 437.2 L2119.2 440.4 L2119.5 446.5 L2116 448.4 L2113.9 445.2 Z
M2160.5 448.9 L2163.2 450 L2188.8 474 L2189.3 477.2 L2193.6 480.4 L2191.2 488.7 L2186.4 488.4 L2166.4 461.2 Z
M2192.8 493.2 L2196 493.2 L2213.6 498 L2219.7 501.5 L2217.6 503.6 L2208.8 501.5 L2193.6 496.4 Z
M2224.8 503.1 L2227.2 502.5 L2226.4 504.4 Z
M2230.4 502 L2232.8 501.5 L2232.8 503.6 Z
M2237.6 502.8 L2243.2 502.5 L2240 504.4 Z
M2248.8 507.6 L2252.8 504.7 L2256.8 504.4 L2256.8 506 L2252.8 506.3 L2249.1 508.9 Z
M2235.2 506.8 L2236.8 507.6 L2236 508.9 Z
M2204 465.2 L2211.2 462 L2220 455.6 L2224.8 449.2 L2227.2 443.9 L2234.4 449.2 L2231.2 452.9 L2228.3 454 L2232.8 466 L2232 467.6 L2228.3 474 L2227.2 479.6 L2223.5 484.4 L2220.8 484.9 L2220 482 L2208 478.8 L2205.6 472.4 Z
M2239.2 466 L2242.4 464.7 L2249.6 466.8 L2254.4 464.1 L2255.5 465.7 L2250.4 470 L2244 469.5 L2241.6 472.4 L2241.6 474.8 L2247.2 472.4 L2248 474 L2243.2 477.5 L2245.6 482 L2246.9 487.6 L2245.3 490 L2243.2 485.2 L2240.8 479.6 L2237.9 490 L2235.7 490.3 L2236.8 485.5 L2235.2 482 L2236.8 474 Z
M2260.8 464.4 L2262.4 463.6 L2265.1 466.8 L2264 470.5 L2261.3 467.9 Z
M2234.4 400.4 L2236.8 399.1 L2240.8 400.4 L2241.6 404.4 L2239.5 408.4 L2241.6 413.2 L2245.6 414.8 L2247.5 417.7 L2245.6 418 L2242.4 416.1 L2238.9 416.4 L2236 410 L2233.6 404.4 Z
M2238.9 418 L2240.5 418.8 L2240 420.4 Z
M2244 425.2 L2245.6 424.4 L2247.2 433.2 L2245.6 434 Z
M2248.8 426 L2251.2 425.2 L2251.2 430 L2249.6 430.8 Z
M2251.2 421.2 L2253.6 422 L2253.9 425.2 L2252 424.4 Z
M2228 436.4 L2235.2 427.3 L2236 429.5 L2229.6 437.2 Z
M2244.8 440.4 L2252 437.2 L2254.4 433.2 L2256.5 434 L2257.6 441.2 L2256 446 L2253.6 445.2 L2249.6 440.4 L2246.4 442 Z
M2274.4 473.7 L2278.4 472.1 L2282.7 472.1 L2282.4 479.6 L2285.6 481.2 L2296 476.9 L2302.4 481.2 L2316 489.2 L2317.6 494.5 L2322.4 495.6 L2321.6 499.3 L2320 499.9 L2324 509.2 L2330.4 513.2 L2330.7 515.9 L2328.8 516.4 L2320.8 512.4 L2318.9 506 L2314.4 502 L2307.2 507.6 L2300.8 507.6 L2296.8 502.8 L2296.5 496.4 L2287.2 488.4 L2284 484.4 L2281.6 482 L2280 486 L2277.9 485.5 L2277.9 481.2 L2280 479.6 L2277.6 477.5 L2275.2 476.4 Z
M2263.2 480.4 L2267.2 479.1 L2270.9 480.4 L2270.4 481.7 L2267.2 480.7 L2263.5 481.7 Z
M2334.4 483.3 L2340 488.4 L2338.4 492.9 L2334.4 495.6 L2328 496.1 L2328 494.8 L2333.9 494 L2336.8 491.3 L2338.4 488.7 L2333.9 483.9 Z
M2344.8 494 L2345.9 493.5 L2348.5 498.5 L2347.5 499.1 Z
M2351.2 500.4 L2352.3 499.9 L2354.1 503.3 L2353.1 503.9 Z
M2357.9 505.7 L2358.9 505.2 L2360.5 508.1 L2359.5 508.7 Z
M2362.4 510.8 L2363.4 510.3 L2365.3 513.7 L2364.3 514.3 Z
M2352.8 506.8 L2353.8 506.3 L2354.9 508.9 L2353.9 509.5 Z
M2364.8 517.2 L2365.6 516.9 L2366.4 519.4 L2365.4 519.8 Z
M2088.2 451.9 L2089.4 451.9 L2089.4 453.5 L2088.2 453.5 Z
M2089.8 458 L2090.9 458 L2090.9 459.9 L2089.8 459.9 Z
M2089.8 464.7 L2091 464.7 L2091 466 L2089.8 466 Z
M2026.4 428.4 L2030.4 426.8 L2030.9 427.9 L2027.2 429.5 Z
M1809 376.6 L1810.2 376.6 L1810.2 377.8 L1809 377.8 Z
M1813.8 377.4 L1815 377.4 L1815 378.6 L1813.8 378.6 Z
M1789.8 418.2 L1791 418.2 L1791 419.4 L1789.8 419.4 Z
M1795.4 420.9 L1796.6 420.9 L1796.6 422.2 L1795.4 422.2 Z
M1793 424.6 L1794.2 424.6 L1794.2 425.8 L1793 425.8 Z
M2001.8 506.6 L2003 506.6 L2003 507.9 L2001.8 507.9 Z
M2005 510.2 L2006.2 510.2 L2006.2 511.4 L2005 511.4 Z
M2036.2 483.8 L2037.4 483.8 L2037.4 485 L2036.2 485 Z
M2037.8 489 L2039 489 L2039 490.3 L2037.8 490.3 Z
M2028.2 493.4 L2029.4 493.4 L2029.4 494.6 L2028.2 494.6 Z
M1885.8 465 L1887 465 L1887 466.3 L1885.8 466.3 Z
M1883.4 468.9 L1884.6 468.9 L1884.6 470.2 L1883.4 470.2 Z
M1889.8 459 L1891 459 L1891 460.2 L1889.8 460.2 Z
M2017.9 509.2 L2020 517.2 L2020.8 521.2 L2019.2 521.2 L2017.6 528.4 L2008.8 544.4 L2009.6 550 L2005.6 552.9 L2001.6 553.5 L1997.9 549.2 L1997.3 542 L2001.6 536.4 L2001.6 526 L2003.2 522.8 L2011.2 521.5 L2015.2 514.8 Z
M2031.5 542 L2033.6 541.7 L2032.8 543.3 Z
M2038.4 539.6 L2040.8 538 L2040 540.4 Z
M1528 350.8 L1527.5 358 L1539.2 381 L1542.4 385.2 L1542.1 394.8 L1553.6 408.4 L1565.6 414 L1570.4 411.9 L1579.2 418 L1585.6 422.8 L1591.2 426 L1594.4 427.6 L1596.8 434 L1604.8 442 L1606.4 443.6 L1613.6 444.9 L1615.2 442 L1618.4 439.6 L1624 442.8 L1624.8 444.4 L1627.2 438.8 L1624.8 441.2 L1618.4 438 L1612 441.2 L1606.4 438.8 L1604 432.4 L1606.4 421.2 L1603.2 416.4 L1591.2 415.6 L1590.4 411.6 L1591.2 407.6 L1593.6 406 L1598.7 396.4 L1596.8 394.8 L1586.4 397.2 L1584 403.6 L1577.6 405.2 L1571.2 402.8 L1569.3 401.2 L1566.4 390.8 L1568 382 L1569.3 376.4 L1569.3 376.4 L1564.8 373.2 L1562.4 361.2 L1559.5 359.9 L1555.2 363.1 L1552.5 360.9 L1550.4 352.9 L1533.6 350.8 L1524 344.4 L1516 344.4 Z
M1516.5 346.4 L1523.8 346.4 L1524.1 348.6 L1522.9 357.1 L1526.2 368.1 L1528.6 381.9 L1524.1 377.1 L1524.1 371 L1519.3 366.7 L1519.3 364.8 L1521.4 363.3 Z
M1608 392.4 L1615.2 390 L1620.8 392.4 L1627.2 396.4 L1635.2 399.6 L1636 401.2 L1630.4 402.8 L1627.2 402 L1628 399.6 L1621.6 395.3 L1614.4 392.4 L1608.8 392.9 Z
M1636.8 407.6 L1640 407.1 L1640.8 401.7 L1645.6 402 L1653.6 407.1 L1648.8 408.1 L1644.8 409.2 L1644 403.6 L1641.6 408.4 L1637.6 409.2 Z
M1624.8 407.1 L1628 406.5 L1629.1 408.1 L1625.6 408.4 Z
M1658.4 407.6 L1662.1 407.6 L1662.1 409.2 L1658.4 409.2 Z
M1630.4 376.4 L1632.8 377.2 L1632.8 378.8 L1630.7 378 Z
M1632.8 382 L1633.9 381.7 L1635.7 384.9 L1634.6 385.5 Z
M1627.2 384.4 L1628.2 384.1 L1629 385.8 L1628 386.2 Z
M1630.1 388.4 L1630.9 388.1 L1631.7 389.8 L1630.7 390.2 Z
M1636 390 L1637 389.7 L1637.9 391.4 L1637 391.8 Z
M1672.8 435.6 L1676 434.8 L1675.2 437.2 Z
M1578.9 471.6 L1580.5 472.4 L1579.2 475.3 L1578.2 474.3 Z
M1668.3 410.3 L1669.3 410.3 L1669.3 411.3 L1668.3 411.3 Z
M1671.5 412.7 L1672.5 412.7 L1672.5 413.7 L1671.5 413.7 Z
M1675 417.5 L1676 417.5 L1676 418.5 L1675 418.5 Z
M1675 422.3 L1676 422.3 L1676 423.3 L1675 423.3 Z
M1674.4 426.3 L1675.4 426.3 L1675.4 427.3 L1674.4 427.3 Z
M1672.8 430.3 L1673.8 430.3 L1673.8 431.3 L1672.8 431.3 Z
M1790.4 418.3 L1791.4 418.3 L1791.4 419.3 L1790.4 419.3 Z
M1796.3 421 L1797.3 421 L1797.3 422 L1796.3 422 Z
M1793.1 425.2 L1794.1 425.2 L1794.1 426.2 L1793.1 426.2 Z
M1627.2 438.8 L1643.2 428.4 L1638.4 435.6 L1636.8 438 L1639.2 439.6 L1644.8 438 L1645.6 433.2 L1648.8 430.8 L1652.8 434.8 L1661.6 436.9 L1668.8 435.3 L1677.6 444.4 L1686.4 452.4 L1690.4 452.4 L1696 451.6 L1704 457.2 L1706.4 456.4 L1707.2 466 L1704.8 472.4 L1716 473.7 L1732.8 478.8 L1744 483.9 L1756 490 L1755.5 502.8 L1742.4 514.8 L1742.1 516.1 L1744 521.2 L1743.2 538.8 L1737.6 548.1 L1730.4 548.4 L1717.6 557.2 L1717.1 568.4 L1710.4 581.2 L1700.8 590.8 L1693.6 588.7 L1693.1 590 L1698.9 597.2 L1693.6 606 L1690.4 607.3 L1684.8 607.6 L1686.4 614.8 L1679.2 617.2 L1681.1 623.9 L1676.8 638.8 L1681.9 642.5 L1678.8 648.6 L1674 656.4 L1676.2 660.6 L1675.4 663 L1672.8 669 L1666.2 666.6 L1657.2 653.4 L1660.2 649.2 L1659.6 644.2 L1654.2 640.8 L1654.2 639 L1657.8 637.8 L1658.4 621.2 L1653.1 618 L1651.2 569.2 L1650.4 550 L1649.6 534 L1629.6 522 L1610.9 489.2 L1611.2 485.2 L1614.4 480.4 L1612 478.8 L1613.6 470.8 L1619.2 466.8 L1624 453.2 L1624.8 444.4 Z
M1677 664.2 L1681.8 670.2 L1686 672.6 L1690.8 672.6 L1687.2 674.6 L1683 675.4 L1674.6 674.4 L1675.2 669.6 Z
M1698.6 659.4 L1701.6 657.8 L1702.8 658.8 L1700.2 660.6 Z
M1703.4 660 L1706.4 657.6 L1708.8 658.8 L1705.8 661.4 L1703.4 662.2 Z
M1652.4 622.8 L1654.2 622.2 L1653.6 627 L1652.4 626.6 Z
M2276.8 518.3 L2286.4 520.4 L2281.1 534.3 L2291.2 544.4 L2296 544.1 L2304 518.3 L2305.6 518.3 L2306.7 529.2 L2311.2 532.9 L2310.4 552.4 L2315.2 556.1 L2320 569.2 L2317.9 571.6 L2323.7 579.1 L2321.6 594 L2312.5 610.8 L2307.2 612.4 L2294.4 632.9 L2281.6 634.8 L2278.9 632.4 L2274.4 634 L2266.7 628.1 L2267.7 615.3 L2262.9 616.4 L2261.9 615.3 L2267.2 611.3 L2266.4 607.9 L2258.1 609.5 L2256.5 605.2 L2257.1 600.1 L2245.3 596.9 L2228 599.6 L2225.6 603.6 L2218.4 603.6 L2204 606.5 L2198.9 602.8 L2198.9 601.2 L2203.5 597.7 L2203.7 569.2 L2209.6 554 L2225.6 547.1 L2234.4 547.1 L2237.3 542.5 L2236.8 538 L2256.8 525.7 L2257.1 531.6 L2262.9 530.3 L2266.4 521.2 Z
M2274.7 645.2 L2284.2 647.8 L2278.2 657 L2273.3 657.2 L2272.8 653 Z
M2371.1 629.6 L2372.1 630.2 L2377.8 648.4 L2381.5 648.4 L2381.8 650.1 L2366.4 663.6 L2365.4 662.9 L2364.8 652.5 L2370.6 647.8 L2371.8 641.6 Z
M2358.6 658.2 L2361.2 662.9 L2352.9 671.2 L2351.8 675.1 L2346.6 675.4 L2336.4 684.8 L2328.4 680.9 L2327.9 679 L2344 671.8 Z
M2363.2 562 L2364 562 L2370.9 568.4 L2370.4 570.5 L2368.8 569.5 Z
M2321.1 510 L2326.9 510 L2331.2 514 L2330.4 516.4 L2321.6 511.9 Z
M2378.1 536.7 L2379.4 537 L2379.5 538.3 L2378.2 538.2 Z
M2380.2 541.2 L2381.4 541.5 L2381.6 542.8 L2380.3 542.6 Z
M2381.3 554.8 L2382.6 555.1 L2382.7 556.4 L2381.4 556.2 Z
M2362.6 510.5 L2363.8 510.8 L2364 512.1 L2362.7 511.9 Z
M2363.5 516.7 L2364.8 517 L2365 518.3 L2363.7 518.2 Z
M2358.4 521.5 L2359.7 521.8 L2359.8 523.1 L2358.6 523 Z"/>
<path fill="#fff" d="M1946.7 317 L1944.5 320.7 L1941.9 321.8 L1943 326.6 L1940.8 328.7 L1939.8 331.3 L1943 329.7 L1947.2 331.3 L1951.4 331.9 L1956.7 329.7 L1961 328.4 L1965.2 329.2 L1968.4 330.8 L1974.8 330.8 L1979 330.3 L1981.1 328.7 L1977.9 321.8 L1973.7 320.2 L1968.4 318.1 L1965.7 315.4 L1966.8 311.2 L1969.5 307 L1968.4 305.9 L1963.1 308.9 L1958.9 309.6 L1958.9 311.7 L1962 313.8 L1959.9 316.5 L1957.6 317.3 L1955.7 315.8 L1955.5 310.7 L1952 309.1 L1947.7 312 Z
M1939.8 332.4 L1947.2 331.9 L1948.3 332.9 L1943 334 Z
M1999.3 304.8 L2003.5 303.2 L2009.9 303.2 L2009.6 310.1 L2006.7 311.2 L2005.4 315.4 L2007.7 319.1 L2013 323.3 L2015.4 322.3 L2018.3 323.9 L2018.9 327 L2014.6 330.7 L2014.6 332.9 L2018.3 336.6 L2017.1 342.9 L2014.1 344.5 L2009.3 344.2 L2005.6 340.8 L2003 335.5 L2004 332.3 L2006.9 331.8 L2003.5 328.6 L2001.2 327 L2000.3 323.9 L1997.2 319.6 L1996.6 315.9 L1994 314.9 L1994.2 310.6 L1997.2 306.9 Z"/>
<path fill="#45b9fd" d="M1507.2 127.1 L1537.3 150.5 L1507.5 202 L1514.4 209.7 L1518.7 210 L1522.4 232.4 L1517.6 236.4 L1516.5 229.2 L1516 216.4 L1513.9 215.6 L1513.6 224.1 L1512 222.8 L1511.5 211.6 L1505.6 204.9 L1497.6 202.8 L1495.5 195.9 L1484.3 200.1 L1479.2 199.3 L1484.3 190 L1472.3 197.5 L1462.4 209.2 L1437.1 216.4 L1426.4 219.3 L1425.6 217.7 L1437.6 214 L1455.2 206 L1460 200.4 L1457.9 198 L1454.4 200.4 L1449.6 194.8 L1447.2 183.6 L1456 169.7 L1470.4 164.9 L1470.1 162.3 L1460 159.1 L1458.4 150 L1466.4 147.9 L1477.1 155.3 L1479.5 147.9 L1472.8 142.8 L1473.9 133.5 Z"/>
<path fill="#45b9fd" d="M1440.8 156.4 L1446.4 161.2 L1445.6 162.8 L1444 162 Z"/>
<path fill="#45b9fd" d="M1411.2 223.6 L1416 221.2 L1416.8 222 L1412 224.7 Z"/>
<path fill="#45b9fd" d="M1418.9 220.4 L1420.5 219.9 L1420.5 221.5 L1419.2 221.5 Z"/>
<path fill="#a9e8ff" d="M2103.2 285.2 L2108 290 L2111.2 290.5 L2118.4 302 L2132.8 302.8 L2135.2 307.6 L2142.4 310.8 L2149.6 306.8 L2155.2 310 L2162.4 309.7 L2173.6 304.4 L2185.6 290.8 L2188 290.5 L2192 282.8 L2195.7 282.5 L2195.2 280.9 L2190.4 278.8 L2186.4 280.4 L2182.9 279.3 L2182.9 271.9 L2188.8 270 L2189.9 262.8 L2186.4 255.6 L2188.8 253.2 L2200.8 252.7 L2211.2 264.4 L2225.6 272.9 L2229.6 272.9 L2230.4 268.4 L2235.2 266 L2235.7 283.6 L2232 285.2 L2232 290 L2234.4 293.2 L2232.8 297.2 L2229.6 302.8 L2226.4 303.6 L2221.6 309.2 L2220 312.4 L2214.4 315.6 L2213.6 308.4 L2210.4 308.1 L2206.4 311.6 L2203.2 319.6 L2207.2 324.4 L2211.2 325.7 L2212.3 322 L2219.7 322 L2219.2 324.4 L2216 326 L2213.6 330 L2213.9 334.8 L2224 345.2 L2224.8 350 L2222.4 353.2 L2226.4 353.2 L2226.4 361.2 L2224 370.8 L2216 381 L2213.6 384.1 L2204 387.3 L2200 391.6 L2198.4 390.8 L2196.8 388.9 L2192.8 389.5 L2189.3 390.5 L2185.6 386 L2181.6 384.7 L2176 386 L2172 389.2 L2166.4 390 L2162.4 382 L2159.2 378.8 L2156.8 370 L2160 373.2 L2156 367.6 L2153.6 366.8 L2152 363.1 L2148 362.5 L2138.4 369.2 L2128.8 370.8 L2118.4 367.6 L2108.8 362.8 L2102.9 363.6 L2098.1 359.6 L2097.6 353.2 L2091.2 345.2 L2082.4 337.2 L2080.8 334 L2075.2 330.8 L2076 328.4 L2084 326 L2092.8 312.4 L2088 306.8 L2094.4 294.8 L2100.8 294 Z"/>
<path fill="#a9e8ff" d="M2082.4 349.2 L2091.2 348.4 L2097.6 353.2 L2098.1 359.6 L2102.9 363.6 L2103.2 365.2 L2104.8 370 L2112.8 374 L2128 375.6 L2130.4 374 L2138.4 374 L2139.2 370.8 L2148 363.6 L2152 364.4 L2152.8 367.6 L2149.6 373.2 L2148.8 381 L2147.2 386 L2144 391.6 L2143.2 394 L2141.9 390 L2142.4 384.7 L2140 385.5 L2135.2 382.3 L2131.2 377.5 L2129.1 379.9 L2131.2 386 L2132.8 391.6 L2128.8 394 L2128 399.6 L2111.5 416.4 L2111.5 426 L2109.6 435.6 L2107.2 440.4 L2104 441.7 L2086.4 404.4 L2086.9 396.4 L2085.6 393.2 L2084 393.7 L2082.4 396.4 L2080 398.8 L2076 397.2 L2074.7 394 L2077.3 390.8 L2076.8 389.2 L2073.1 388.9 L2078.4 386.8 L2078.9 382 L2076 378.8 L2073.6 376.4 L2080.8 375.6 L2084 366 L2088 357.2 L2084 354 Z"/>
<path fill="#a9e8ff" d="M2198.4 397.2 L2201.6 396.1 L2203.5 398 L2202.4 400.4 L2199.5 401.2 L2197.9 399.6 Z"/>
<path fill="#45b9fd" d="M1528.8 272.9 L1605.6 284.9 L1616.8 292.4 L1622.4 292.9 L1628.8 298 L1634.4 305.5 L1627.2 317.2 L1629.6 320.4 L1645.6 315.6 L1656.8 308.4 L1666.4 307.9 L1671.7 305.2 L1671.7 302.3 L1675.5 301.2 L1676 308.4 L1664.3 317.2 L1665.9 322.8 L1654.7 324.7 L1642.9 338.5 L1644 345.5 L1635.2 348.4 L1624 358 L1621.3 366 L1624.8 375.3 L1623.2 378.8 L1620.8 381.5 L1617.6 381.5 L1615.7 375.6 L1617.9 381 L1616 375.6 L1617.3 366 L1613.6 360.9 L1599.2 360.9 L1598.9 364.4 L1593.6 364.1 L1585.6 360.9 L1572.8 370.8 L1569.3 376.4 L1564.8 373.2 L1562.4 361.2 L1559.5 359.9 L1555.2 363.1 L1552.5 360.9 L1550.4 352.9 L1533.6 350.8 L1524 344.4 L1516 344.4 L1515.2 337.5 L1510.4 334.8 L1507.2 309.2 L1521.9 274.8 L1527.2 276.9 Z"/>
<path fill="none" stroke="#fff" stroke-width="2.0" stroke-linejoin="round" stroke-linecap="round" d="M1537.3 150.5 L1507.5 202 L1514.4 209.7 L1518.7 210 L1522.4 232.4 L1517.6 236.4
M1893.1 262 L1896.3 255.1 L1895.8 246.6 L1896.3 237.1 L1899 234.4 L1899.5 225.4 L1904.8 217.5 L1908.5 213.2 L1913.8 210.6 L1919.1 213.2 L1921.8 217.5 L1922.6 226.3
M1921.5 215.9 L1923.9 211.7 L1924.4 208.5 L1928.6 205.1 L1930.8 209.5 L1932.4 215.4 L1935 216.4 L1935.5 222.3 L1943.5 240.8 L1937.1 249.6
M1926.8 263.9 L1933.9 264.7 L1936.6 266.2
M1936.1 256.2 L1935.5 262.5 L1937.7 267.8 L1938.2 271
M1919.6 270.8 L1926 270 L1934.5 272.6 L1938.2 271
M1934.5 272.6 L1931.3 279.5 L1927.1 280 L1924.9 276.3 L1919.6 274.2
M1919.1 277.4 L1924.4 276.8 L1924.9 276.3
M1938.2 271 L1946.1 273.1 L1951.4 281.1 L1947.2 289 L1936.6 289.6 L1930.2 288 L1928.1 283.7 L1927.1 280
M1951.4 284.3 L1955.7 284.8 L1962 292.7 L1973.7 293.8 L1973.7 300
M1991.7 300 L1991.7 292.2 L2000.2 286.4 L2009.7 286.9 L2011.9 290.1 L2021.9 290.6 L2030.4 285.9 L2026.2 281.1 L2026.7 274.7 L2045.8 264.7 L2060.6 272.1 L2065.9 267 L2080.8 281.1 L2085 280.6
M1991.7 299.9 L1991 299 L1999.3 305
M2051.1 372.6 L2061.7 368.3 L2062.8 363 L2070.2 358.8 L2073.4 347.2 L2074.9 345.6 L2072.8 343.5 L2076.5 340.8 L2081.8 339.2
M1842.8 331.3 L1843.8 330.8 L1841.7 347.8
M1860.3 322.3 L1866.6 325 L1873 323.9 L1875.1 323.4
M1927.6 299.5 L1927.1 302.7 L1929.2 304.3 L1937.7 304.3 L1939.8 303.2
M1973.7 293.8 L1973.7 300 L1972.6 301.7 L1968.4 305.9
M1977.9 321.8 L1985.4 323.9 L1993.8 326.6 L2000.2 327.6
M1981.1 328.7 L1987.5 329.7 L1991.7 328.2 L1993.8 326.6
M1987.5 329.7 L1993.8 335.6 L1997 334.5 L1991.7 328.2
M1993.8 326.6 L1999.1 330.8 L2002.3 328.2 L2005.5 331.3 L2003.9 332.4
M1997 334.5 L2000.2 336.1 L2004.4 337.7
M1966.8 347.8 L1970.5 346.7 L1985.4 345.1 L1991.7 344.1 L1989.6 339.8 L1991.7 337.7 L1993.8 335.6
M1985.4 345.1 L1983.8 351.5 L1977.9 356.8 L1972.6 362.1 L1968.4 363.1
M1968.4 363.1 L1966.8 357.8 L1967.3 353.6
M1965.7 358.9 L1967.9 357.8
M1964.7 365.8 L1966.8 373.7 L1967.9 366.3 L1968.4 363.1
M1968.4 363.1 L1972.6 364.2 L1975.8 363.1 L1976.9 366.3 L1973.7 368.4 L1975.3 370.6 L1971.6 374.3 L1967.3 374.3
M1991.7 344.1 L1996.5 350.4 L1994.9 354.7 L1999.1 360 L2003.4 363.1 L2006 367.4 L2004.4 369
M1975.8 363.1 L1983.2 363.7 L1993.8 371.6 L2001.3 372.7 L2002.8 370.6
M2001.3 372.7 L2004.4 369
M2017.7 343 L2021.4 340.9 L2027.8 338.8 L2039.4 343 L2041.5 347.2
M2041.5 347.2 L2043.7 357.8 L2046.8 364.2 L2043.7 368.4 L2052.1 373.7 L2053.2 378 L2050 381.2 L2049.5 384.3
M2018.7 325 L2021.4 325.5 L2020.3 312.8 L2024.6 310.7 L2032 311.2 L2036.8 316 L2046.8 314.9 L2053.2 322.3 L2063.8 320.7 L2065.9 317.6
M2021.4 325.5 L2030.9 321.3 L2037.3 326 L2047.9 334.5 L2056.4 338.2 L2059.6 338.8
M2041.5 347.2 L2047.9 347.8 L2056.4 338.2
M1938.7 365.8 L1939.8 390
M1898.4 360.5 L1894.2 369.5 L1892.1 369.5
M1886.2 348.3 L1887.8 356.2 L1890.5 364.2 L1892.1 369.5
M1892.1 369.5 L1893.1 385.4 L1896.3 390
M1859.2 354.1 L1861.3 365.3 L1855 366.3 L1850.7 372.7 L1840.1 375.9 L1839.1 382.2 L1844.4 387.5 L1848.6 390
M1839.1 382.2 L1826.4 387.5 L1826.4 390
M2103.2 285.2 L2108 290 L2111.2 290.5 L2118.4 302 L2132.8 302.8 L2135.2 307.6 L2142.4 310.8 L2149.6 306.8 L2155.2 310 L2162.4 309.7 L2173.6 304.4 L2185.6 290.8 L2188 290.5 L2192 282.8 L2195.7 282.5 L2195.2 280.9 L2190.4 278.8 L2186.4 280.4 L2182.9 279.3 L2182.9 271.9 L2188.8 270 L2189.9 262.8 L2186.4 255.6 L2188.8 253.2 L2200.8 252.7 L2211.2 264.4 L2225.6 272.9 L2229.6 272.9 L2230.4 268.4 L2235.2 266 L2235.7 283.6 L2232 285.2 L2232 290 L2234.4 293.2 L2232.8 297.2 L2229.6 302.8 L2226.4 303.6 L2221.6 309.2
M2185.6 386 L2181.6 384.7 L2176 386 L2172 389.2 L2166.4 390 L2162.4 382 L2159.2 378.8 L2156.8 370 L2160 373.2 L2156 367.6 L2153.6 366.8 L2152 363.1 L2148 362.5 L2138.4 369.2 L2128.8 370.8 L2118.4 367.6 L2108.8 362.8 L2102.9 363.6 L2098.1 359.6 L2097.6 353.2 L2091.2 345.2 L2082.4 337.2 L2080.8 334 L2075.2 330.8 L2076 328.4 L2084 326 L2092.8 312.4 L2088 306.8 L2094.4 294.8 L2100.8 294 L2103.2 285.2
M2082.4 349.2 L2091.2 348.4 L2097.6 353.2
M2103.2 365.2 L2104.8 370 L2112.8 374 L2128 375.6 L2130.4 374 L2138.4 374 L2139.2 370.8
M2128 375.6 L2128.8 371.6
M2130.4 374 L2130.4 371.6
M2138.4 374 L2138.4 370
M2152 364.4 L2152.8 367.6 L2149.6 373.2 L2148.8 381 L2147.2 386 L2144 391.6 L2143.2 394 L2141.9 390 L2142.4 384.7 L2140 385.5 L2135.2 382.3 L2131.2 377.5 L2129.1 379.9 L2131.2 386 L2132.8 391.6
M2073.1 388.9 L2078.4 386.8 L2078.9 382 L2076 378.8 L2073.6 376.4 L2080.8 375.6 L2084 366 L2088 357.2 L2084 354 L2082.4 349.2
M2060 272.4 L2065.6 267.1 L2080.5 281.5 L2091.2 280.4 L2096 284.4 L2103.2 285.2
M2105.6 285.2 L2112.8 275.6 L2125.6 281.2 L2131.5 275.6 L2128 272.4 L2130.7 267.6 L2139.2 270 L2143.2 275.6 L2147.2 275.6 L2151.2 273.5 L2156.8 273.5 L2157.9 275.6 L2167.2 276.1 L2173.6 270 L2182.9 271.3
M2092.8 312.4 L2072.8 315.6 L2071.2 318 L2067.2 317.2 L2066.4 321.2 L2062.4 324.4 L2060 324.4
M2084 326 L2076 322.8 L2069.6 326.8 L2064.8 327.6 L2063.2 330 L2075.2 330.8
M2085 336.6 L2082.4 337.2
M2229.9 317.2 L2232.5 317.2
M2162.4 382 L2157.6 386 L2156 379.6 L2159.2 378.8
M2166.4 390 L2168.8 395.6 L2162.4 398.8 L2160.8 402 L2165.6 411.6 L2164 414.8
M2168.8 395.6 L2172 389.2
M2168.8 395.6 L2173.6 404.4 L2179.2 402.8 L2187.2 410.8 L2188 417.2 L2181.6 418 L2180.8 422.8 L2179.7 421.2
M2176 386 L2174.4 390.8 L2179.2 394 L2178.4 398 L2192.8 414 L2193.6 417.2 L2188 417.2
M2193.6 417.2 L2192.8 426 L2186.4 431.6
M2170.4 432.4 L2168.8 426 L2168 426
M2173.6 446.8 L2179.2 448.4
M2206.4 466.8 L2209.6 468.4 L2223.2 464.4 L2225.6 458.8 L2227.2 454.8
M2302.9 481.2 L2302.9 507.6
M1811.2 402.8 L1823.2 401.2 L1824 396.4 L1827.2 395.6 L1828 387.6 L1838.4 386.8 L1839.2 377.2 L1850.4 374 L1852 370
M1838.4 383.6 L1879.2 409.2
M1844 390 L1848.5 421.2 L1828 422 L1825.6 425.2
M1812 416.4 L1817.6 417.2 L1821.6 418.8 L1827.2 426 L1828 422
M1879.2 409.2 L1900 394 L1899.2 390.8 L1894.4 387.6 L1892.8 384.4 L1892.8 370
M1900 394 L1911.2 395.6 L1937.6 406 L1939.2 406 L1939.5 370
M1940 399.6 L1969.6 399.6 L1972 396.4
M1911.2 395.6 L1913.6 403.6 L1912.8 413.2 L1908 419.6 L1905.6 426
M1879.2 409.2 L1876.8 410 L1876 420.4 L1867.2 422 L1872.8 430.5 L1876 430.8 L1879.2 426.8 L1884 429.2 L1895.2 429.2 L1905.6 426
M1848.5 421.2 L1860 421.2 L1867.2 422
M1860 421.2 L1848.8 431.6 L1847.2 437.2 L1839.2 436.4 L1836.8 445.2
M1937.6 406 L1936 421.2 L1932.8 425.2 L1933.6 431.6 L1937.6 437.2
M1905.6 426 L1909.6 430 L1908.8 439.6 L1912.8 445.2 L1917.6 446.8 L1921.6 444.4 L1930.4 434.8 L1937.6 437.2 L1937.6 439.6
M1937.6 439.6 L1949.6 438.5 L1960.8 438 L1964 433.2 L1968.8 438.8
M1980.8 411.6 L1977.6 416.4 L1977.6 422.8 L1968.8 438.8 L1968 444.4 L1973.6 452.4
M1977.6 422.8 L1986.4 423.6 L1995.2 431.6
M2012 443.6 L2002.4 454 L1991.2 459.6
M1973.6 452.4 L1984.8 458.8 L1991.2 459.6
M1991.2 459.6 L1992.8 462.8 L1992.8 473.2
M1937.6 439.6 L1948.8 454 L1960.8 456.4 L1972 453.2 L1973.6 452.4
M1912.8 445.2 L1909.6 453.2 L1915.2 460.4 L1920.8 458.8 L1922.4 454.8 L1930.4 458.8 L1934.4 455.6 L1948.8 454.8
M1905.6 426 L1901.6 437.2 L1899.2 448.4 L1892 450 L1890.4 453.2
M1894.4 465.2 L1904.8 465.2 L1909.6 464.4 L1915.2 460.4
M1904.8 465.2 L1904.8 472.4 L1909.6 473.2 L1908.8 478.8 L1900 478.8 L1902.4 482.8 L1899.2 484.4
M1920 458.8 L1920.8 470.8 L1915.2 475.6 L1914.4 480.4 L1904.8 489.2 L1903.2 490.8
M1903.2 490.8 L1916 491.6 L1917.6 496.4 L1923.2 496.4 L1925.6 493.2 L1931.2 494 L1933.6 506.8 L1937.6 506.8 L1953.6 513.2 L1956.8 512.4 L1956 509.2
M1960.8 456.4 L1962.4 462 L1956 472.4 L1954.4 477.2 L1955.2 485.2 L1958.4 498 L1952.8 499.6 L1951.2 506 L1956 509.2
M1972 453.2 L1974.4 462.8 L1971.2 472.4
M1956 472.4 L1971.2 472.4
M1961.6 474.8 L1969.6 473.7 L1988 483.6
M1955.2 478.8 L1960 478.8
M1955.2 485.2 L1958.4 483.6 L1961.6 474.8
M1973.6 507.6 L1989.6 505.7
M1958.4 498 L1966.4 502 L1971.2 502.8 L1973.6 507.6 L1975.2 521
M1966.4 502 L1968 514 L1970.4 521
M1931.2 521 L1931.2 510.8 L1937.6 510 L1936.8 506.8
M1812 426 L1819.2 426 L1820 427.3 L1812 427.6
M1812.8 431.6 L1828 430.8 L1830.4 430 L1827.2 426
M1818.4 434 L1821.6 432.4 L1835.2 431.6 L1836.8 437.2 L1836 442 L1831.2 443.6 L1826.4 440.4 L1822.4 442
M1831.2 444.4 L1828 448.4
M1831.2 444.4 L1836.8 445.2 L1840 450.8 L1840 456.4
M1854.4 437.2 L1853.6 446.8 L1857.6 454
M1867.2 435.6 L1868 450
M1871.2 434 L1871.2 450
M1874.4 431.6 L1873.6 443.6 L1874.4 449.7
M1848.8 431.6 L1855.2 437.2 L1867.2 435.6 L1872.8 430.5
M1900 525.7 L1920.8 525.7 L1928.8 527.6 L1940 528.4
M1940 528.4 L1937.6 530.8 L1929.6 531.6 L1928 540.4 L1924.8 541.2 L1925.3 551.6 L1924 565.2 L1917.6 566 L1912.8 564.4
M1925.6 552.4 L1927.2 558.8 L1929.6 558.8 L1935.2 554 L1941.6 554 L1944 549.2 L1952 542
M1940.8 529.2 L1952 542
M1952 542 L1960 543.6 L1965.6 534.8 L1965.6 524.4 L1956 520.4
M1940.8 528.9 L1948 527.6 L1953.6 521.2 L1956 520.4
M1931.2 510 L1931.2 522 L1933.6 526 L1940 528.4
M1956 520.4 L1966.4 516.4 L1968 510
M1966.4 516.4 L1970.4 520.4 L1971.2 526.8 L1976.8 521.2 L1976 514.8 L1972.8 510
M1960 543.6 L1960.5 553.2
M1528.8 272.9 L1605.6 284.9 L1616.8 292.4 L1622.4 292.9 L1628.8 298 L1634.4 305.5 L1627.2 317.2 L1629.6 320.4 L1645.6 315.6 L1656.8 308.4 L1666.4 307.9 L1671.7 305.2 L1671.7 302.3 L1675.5 301.2
M1569.3 376.4 L1564.8 373.2 L1562.4 361.2 L1559.5 359.9 L1555.2 363.1 L1552.5 360.9 L1550.4 352.9 L1533.6 350.8 L1524 344.4 L1516 344.4
M1579.2 418 L1583.2 412.4 L1581.6 409.2 L1588 407.6 L1588.8 411.6
M1588.8 407.6 L1591.2 408.1
M1588.8 412.4 L1585.6 418 L1591.2 416.1
M1585.6 422.8 L1588.8 418.8 L1594.4 421.2
M1594.4 425.2 L1599.2 419.6 L1606.4 421.2
M1596.8 434 L1604 433.2
M1606.4 438.8 L1606.4 443.6
M1624.8 444.4 L1627.2 438.8
M1639.2 439.6 L1638.4 443.6 L1640 445.2 L1652.8 449.7 L1653.6 466 L1648 466.8 L1647.2 472.4 L1649.6 474.8
M1618.4 467.6 L1628 474 L1630.4 473.7 L1636 480.4 L1642.4 480.7 L1643.2 485.2 L1647.2 485.2 L1648.8 474.8
M1611.5 484.4 L1614.4 487.6 L1619.2 488.4 L1629.6 475.6 L1628 474
M1653.6 466 L1657.6 470.5 L1662.4 470.5 L1668.8 463.6 L1664 461.2 L1664.8 457.7 L1670.4 459.3 L1674.4 456.4 L1673.9 450 L1677.6 444.4
M1674.4 456.4 L1675.2 462.8 L1680 468.4 L1693.6 463.6 L1700 465.2 L1704.8 457.2
M1686.4 452.4 L1684 457.2 L1688 461.2 L1688 464.4
M1696 451.9 L1695.2 463.6
M1643.2 485.2 L1636.8 490 L1634.9 498 L1640 505.2 L1644.8 502.8 L1649.6 510.8 L1652 521
M1649.6 508.4 L1657.6 504.1 L1661.6 504.4 L1664 512.4 L1677.6 517.2 L1679.2 521
M1650.9 510 L1653.1 518.8 L1652.5 530 L1649.6 534.3
M1649.6 534.3 L1657.9 550 L1660.5 551.9 L1660 553.5 L1657.3 557.2 L1654.4 576.4 L1659.2 592.4 L1656.8 603.6 L1664.8 638
M1663.2 510 L1664.3 513.2 L1677.6 517.2 L1680 524.7 L1685.6 525.2 L1688 531.6 L1686.4 537.5
M1660.5 550.8 L1664 547.1 L1673.3 547.6 L1676.8 539.1 L1686.4 538
M1686.4 538 L1688.8 540.4 L1689.3 544.9 L1694.4 545.5 L1700.8 552.9 L1700.5 558 L1704 560.9 L1696.8 564.4 L1689.3 564.7 L1688.8 561.2 L1690.4 556.7 L1684 552.7 L1679.2 552.4 L1673.6 547.6
M1704 560.9 L1695.2 574 L1692.8 576.4 L1693.6 589.2
M1695.2 574 L1710.4 581.2
M1664.8 638 L1665 636.6 L1666.2 656.4 L1670.4 662.4 L1676.4 661.8
M1682.2 670.2 L1682.4 675.4
M1994.8 415.7 L1998.6 411.9 L2005.7 416.7 L2011.9 410 L2022.9 407
M2022.9 407 L2027.6 415.7
M2022.9 407 L2031.4 401.9 L2032.9 395.7
M2017.6 389.5 L2019.5 394.3 L2032.9 395.7
M2031 384.3 L2031.4 394.8
M2017.6 388.9 L2019.8 388.9
M2001.9 372.9 L2004.3 368.1 L2008.6 368.6
M2001.9 374.3 L2007.6 376.7
M2063.3 320.6 L2064.4 321.4 L2076 324.6
M2076 324.6 L2064.4 328.8 L2063.9 327.5 L2067 325.9 L2064.4 324.6 L2058 331.5 L2061.2 333.1 L2061 339.2
M2056.5 339.2 L2063.3 339.7 L2066.5 338.1 L2069.2 334.4 L2070.7 339.4 L2073.4 339.7 L2075.5 337 L2077.6 337 L2080.8 337.6
M2064.4 328.8 L2066.5 329.9 L2072.3 329.6 L2075.2 329.5"/>
<path fill="none" stroke="#fff" stroke-width="2.4" stroke-linejoin="round" stroke-linecap="round" d="M1887 278.7 L1892.9 278.9
M1902.9 282.1 L1903.2 289.5 L1904.5 292.7
M1904.5 292.7 L1897.6 296.4 L1901.6 301.4 L1899.7 303.8
M1899.7 303.8 L1892.3 308 L1889.7 306.7 L1886.5 304.3
M1886.5 304.3 L1884.9 302.7 L1883.9 298.5 L1881.7 295.9 L1881.2 291.6 L1883.9 288.5 L1883.3 283.7
M1872.8 293.2 L1881.7 298.5 L1883.9 298.5
M1871.2 294.4 L1881 299.8 L1884.9 303
M1881.7 298.5 L1882.8 300.4
M1884.9 303.8 L1883.9 305.9 L1887 307 L1881.2 311.9
M1882.3 309.6 L1887 307 L1892.3 308.6 L1891.3 311.9
M1926.7 279.5 L1928.3 284.2 L1927.2 289.5 L1928.8 295.9 L1926.7 299 L1918.8 300.1 L1914 299 L1904.5 293.2
M1899.7 303.8 L1903.4 301.9 L1910.3 303.8 L1912.4 302.2 L1914.3 299.3
M1926.7 299 L1927.2 303.8 L1924.1 304.9 L1916.1 306.4 L1911.4 304.3 L1910.3 303.8
M1910.3 303.8 L1910.8 305.9 L1909.8 309.6
M1892.3 308.6 L1897.6 310.7 L1908.2 309.9 L1909.8 309.6
M1927.2 303.8 L1930 304.3
M1883.7 315.3 L1885.8 313.2 L1889 313.8 L1891.4 310.3 L1895.9 309.3 L1900.6 311.4 L1901.4 314.3 L1901.2 315.9
M1900.6 311.4 L1904.9 310.1 L1910.2 308.7 L1911.2 306.9
M1901.4 315.3 L1905.4 315.9 L1910.2 313.5 L1910.7 312.2 L1910.4 306.3
M1910.7 312.4 L1916.2 313.1 L1921 311.5 L1922.3 311.4
M1910.4 306.3 L1917 305 L1926.6 302.9 L1927.6 302.1
M1922.3 311.4 L1926.6 307.4 L1927.6 302.1
M1908 316.5 L1917.8 316.3
M1908.8 316.9 L1911.7 320.6 L1916.5 324.9 L1917 325.9
M1918.4 316.4 L1919.7 320.6 L1918.9 324.1 L1917 325.1
M1916.5 325.4 L1920.2 324.9 L1921.8 327 L1923.4 327.2
M1919.2 327.5 L1921.5 327.6
M1922.3 328 L1923.7 332.3 L1922.3 336.2
M1923.4 327.2 L1927.6 326.7
M1928.1 327.5 L1928.7 331.2 L1924.4 332.3 L1923.7 332.3
M1922.3 336.5 L1924.4 332.8 L1929.2 331.2 L1938.7 330.4 L1939.3 331.7
M1927.4 321.2 L1927.6 326.5 L1928.7 327 L1928.7 331.2
M1928.7 331.2 L1929.7 330.4 L1937.1 330.4 L1939.8 329.6 L1943 326.5
M1926.6 321.2 L1930.8 321.4 L1936.9 321.4 L1940.6 319.6 L1943.5 320.4
M1938.2 302.6 L1941.6 301.9 L1945.9 308.5 L1943.5 313.5 L1940.8 313.2"/>
<path fill="#fff" stroke="#fff" stroke-width="4.6" stroke-linejoin="round" d="M1923.1 311.4 L1929.5 305 L1936.9 305 L1939.8 311.4 L1940.3 313.8 L1946.9 315.9 L1944 320.1 L1940.6 318.8 L1936.9 320.9 L1930.8 320.9 L1926.6 316.4 Z
M1917.8 315.3 L1921.3 313 L1922.6 313.2 L1926.6 320.6 L1926.6 325.4 L1923.4 326.7 L1919.9 323.5 L1920.7 320.6 L1918.9 316.9 Z"/>
<path fill="#a9e8ff" d="M1923.1 311.4 L1929.5 305 L1936.9 305 L1939.8 311.4 L1940.3 313.8 L1946.9 315.9 L1944 320.1 L1940.6 318.8 L1936.9 320.9 L1930.8 320.9 L1926.6 316.4 Z
M1917.8 315.3 L1921.3 313 L1922.6 313.2 L1926.6 320.6 L1926.6 325.4 L1923.4 326.7 L1919.9 323.5 L1920.7 320.6 L1918.9 316.9 Z"/>
<path fill="#a9abb8" stroke="#fff" stroke-opacity="0.7" stroke-width="2.6" paint-order="stroke" d="M1950.9 565.4 L1951.2 566.2 L1951 567.2 L1950.4 568.2 L1949.5 569 L1948.4 569.6 L1947.3 569.8 L1946.4 569.6 L1945.7 569.1 L1945.4 568.3 L1945.6 567.4 L1946.2 566.4 L1947.1 565.6 L1948.2 565 L1949.3 564.8 L1950.3 564.9 Z"/>
<path fill="#d0d1d7" stroke="#fff" stroke-width="1.7" d="M1961.6 556.9 L1961.4 557.8 L1960.9 558.6 L1960.1 559.1 L1959.2 559.3 L1958.3 559.1 L1957.5 558.6 L1957 557.8 L1956.8 556.9 L1957 556 L1957.5 555.2 L1958.3 554.7 L1959.2 554.5 L1960.1 554.7 L1960.9 555.2 L1961.4 556 Z"/>
</svg>
</body>
</html>
